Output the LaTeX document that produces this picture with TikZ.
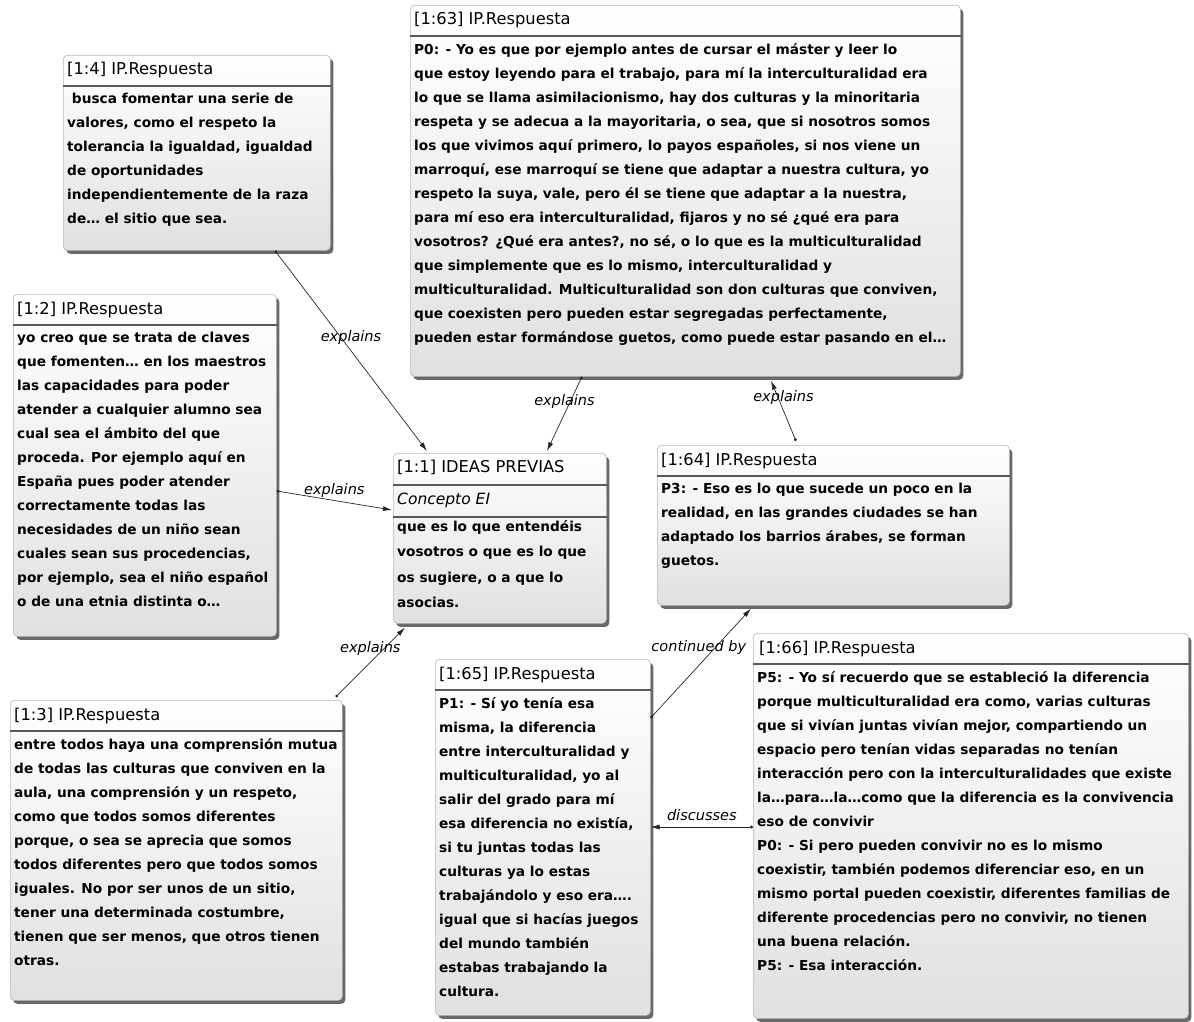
\documentclass[tikz,border=0pt]{standalone}
\usepackage{fontspec}
\setmainfont{DejaVu Sans}
\usetikzlibrary{arrows.meta, shadows}

\begin{document}
\begin{tikzpicture}[
    x=1pt, y=-1pt,
    card/.style={anchor=north west, inner sep=0pt, draw=black!28, line width=0.6pt,
        rounded corners=4pt, top color=white, bottom color=black!12,
        drop shadow={shadow xshift=3pt, shadow yshift=-3.5pt, fill=black!65, opacity=0.9}},
    title/.style={anchor=base west, inner sep=0pt, font=\fontsize{16.3pt}{19pt}\selectfont},
    body/.style={anchor=north west, inner sep=0pt, align=left,
        font=\bfseries\fontsize{13.7pt}{24pt}\selectfont, execute at begin node=\strut},
    rule/.style={draw=black!65, line width=1.2pt},
    link/.style={{Circle[length=3pt]}-{Latex[length=9pt, width=5pt]}, line width=0.7pt, draw=black!85},
    tag/.style={midway, inner sep=0pt, font=\itshape\fontsize{14.5pt}{16pt}\selectfont}
]

\useasboundingbox (0,0) rectangle (1194,1022);

% [1:4]
\node[card, minimum width=267pt, minimum height=195pt] (Q-4) at (63,55) {};
\node[title] (Q-4-title) at (67,75) {[1:4] IP.Respuesta};
\draw[rule] ([yshift=-31pt]Q-4.north west) -- ([yshift=-31pt]Q-4.north east);
\node[body] (Q-4-text) at (67,93) {\ busca fomentar una serie de\\
valores, como el respeto la\\
tolerancia la igualdad, igualdad\\
de oportunidades\\
independientemente de la raza\\
de… el sitio que sea.};

% [1:63]
\node[card, minimum width=550pt, minimum height=371pt] (Q-63) at (410,5) {};
\node[title] (Q-63-title) at (414,25) {[1:63] IP.Respuesta};
\draw[rule] ([yshift=-31pt]Q-63.north west) -- ([yshift=-31pt]Q-63.north east);
\node[body] (Q-63-text) at (414,43) {P0: - Yo es que por ejemplo antes de cursar el máster y leer lo\\
que estoy leyendo para el trabajo, para mí la interculturalidad era\\
lo que se llama asimilacionismo, hay dos culturas y la minoritaria\\
respeta y se adecua a la mayoritaria, o sea, que si nosotros somos\\
los que vivimos aquí primero, lo payos españoles, si nos viene un\\
marroquí, ese marroquí se tiene que adaptar a nuestra cultura, yo\\
respeto la suya, vale, pero él se tiene que adaptar a la nuestra,\\
para mí eso era interculturalidad, fijaros y no sé ¿qué era para\\
vosotros? ¿Qué era antes?, no sé, o lo que es la multiculturalidad\\
que simplemente que es lo mismo, interculturalidad y\\
multiculturalidad. Multiculturalidad son don culturas que conviven,\\
que coexisten pero pueden estar segregadas perfectamente,\\
pueden estar formándose guetos, como puede estar pasando en el…};

% [1:2]
\node[card, minimum width=263pt, minimum height=342pt] (Q-2) at (13,294) {};
\node[title] (Q-2-title) at (17,314) {[1:2] IP.Respuesta};
\draw[rule] ([yshift=-31pt]Q-2.north west) -- ([yshift=-31pt]Q-2.north east);
\node[body] (Q-2-text) at (17,332) {yo creo que se trata de claves\\
que fomenten… en los maestros\\
las capacidades para poder\\
atender a cualquier alumno sea\\
cual sea el ámbito del que\\
proceda. Por ejemplo aquí en\\
España pues poder atender\\
correctamente todas las\\
necesidades de un niño sean\\
cuales sean sus procedencias,\\
por ejemplo, sea el niño español\\
o de una etnia distinta o…};

% [1:1]
\node[card, minimum width=213pt, minimum height=170pt] (Q-1) at (393,453) {};
\node[title] (Q-1-title) at (397,472) {[1:1] IDEAS PREVIAS};
\draw[rule] ([yshift=-32pt]Q-1.north west) -- ([yshift=-32pt]Q-1.north east);
\node[title, font=\itshape\fontsize{15.5pt}{18pt}\selectfont] (Q-1-code) at (397,504) {Concepto EI};
\draw[rule] ([yshift=-64pt]Q-1.north west) -- ([yshift=-64pt]Q-1.north east);
\node[body, font=\bfseries\fontsize{13.7pt}{25.5pt}\selectfont] (Q-1-text) at (397,520) {que es lo que entendéis\\
vosotros o que es lo que\\
os sugiere, o a que lo\\
asocias.};

% [1:64]
\node[card, minimum width=352pt, minimum height=160pt] (Q-64) at (657,445) {};
\node[title] (Q-64-title) at (661,465) {[1:64] IP.Respuesta};
\draw[rule] ([yshift=-31pt]Q-64.north west) -- ([yshift=-31pt]Q-64.north east);
\node[body] (Q-64-text) at (661,483) {P3: - Eso es lo que sucede un poco en la\\
realidad, en las grandes ciudades se han\\
adaptado los barrios árabes, se forman\\
guetos.};

% [1:3]
\node[card, minimum width=332pt, minimum height=300pt] (Q-3) at (10,700) {};
\node[title] (Q-3-title) at (14,720) {[1:3] IP.Respuesta};
\draw[rule] ([yshift=-31pt]Q-3.north west) -- ([yshift=-31pt]Q-3.north east);
\node[body] (Q-3-text) at (14,738) {entre todos haya una comprensión mutua\\
de todas las culturas que conviven en la\\
aula, una comprensión y un respeto,\\
como que todos somos diferentes\\
porque, o sea se aprecia que somos\\
todos diferentes pero que todos somos\\
iguales. No por ser unos de un sitio,\\
tener una determinada costumbre,\\
tienen que ser menos, que otros tienen\\
otras.};

% [1:65]
\node[card, minimum width=215pt, minimum height=356pt] (Q-65) at (435,659) {};
\node[title] (Q-65-title) at (439,679) {[1:65] IP.Respuesta};
\draw[rule] ([yshift=-31pt]Q-65.north west) -- ([yshift=-31pt]Q-65.north east);
\node[body] (Q-65-text) at (439,697) {P1: - Sí yo tenía esa\\
misma, la diferencia\\
entre interculturalidad y\\
multiculturalidad, yo al\\
salir del grado para mí\\
esa diferencia no existía,\\
si tu juntas todas las\\
culturas ya lo estas\\
trabajándolo y eso era….\\
igual que si hacías juegos\\
del mundo también\\
estabas trabajando la\\
cultura.};

% [1:66]
\node[card, minimum width=435pt, minimum height=385pt] (Q-66) at (753,633) {};
\node[title] (Q-66-title) at (759,653) {[1:66] IP.Respuesta};
\draw[rule] ([yshift=-31pt]Q-66.north west) -- ([yshift=-31pt]Q-66.north east);
\node[body] (Q-66-text) at (757,671) {P5: - Yo sí recuerdo que se estableció la diferencia\\
porque multiculturalidad era como, varias culturas\\
que si vivían juntas vivían mejor, compartiendo un\\
espacio pero tenían vidas separadas no tenían\\
interacción pero con la interculturalidades que existe\\
la…para…la…como que la diferencia es la convivencia\\
eso de convivir\\
P0: - Si pero pueden convivir no es lo mismo\\
coexistir, también podemos diferenciar eso, en un\\
mismo portal pueden coexistir, diferentes familias de\\
diferente procedencias pero no convivir, no tienen\\
una buena relación.\\
P5: - Esa interacción.};

% Links
\draw[link] ([xshift=212pt]Q-4.south west) -- ([xshift=34pt,yshift=2pt]Q-1.north west)
    node[tag, yshift=13pt] (L-4) {explains};
\draw[link] ([yshift=-197pt]Q-2.north east) -- ([xshift=-1pt,yshift=-57pt]Q-1.north west)
    node[tag, yshift=10pt] (L-2) {explains};
\draw[link] ([xshift=-7pt,yshift=3pt]Q-3.north east) -- ([xshift=12pt,yshift=-4pt]Q-1.south west)
    node[tag, yshift=14pt] (L-3) {explains};
\draw[link] ([xshift=172pt]Q-63.south west) -- ([xshift=154pt,yshift=2pt]Q-1.north west)
    node[tag, yshift=12pt] (L-63) {explains};
\draw[link] ([xshift=139pt,yshift=4pt]Q-64.north west) -- ([xshift=361pt,yshift=-4pt]Q-63.south west)
    node[tag, yshift=13pt] (L-64) {explains};
\draw[link] ([yshift=-59pt]Q-65.north east) -- ([xshift=94pt,yshift=-3pt]Q-64.south west)
    node[tag, yshift=16pt, xshift=-2pt] (L-65) {continued by};
\draw[link] ([yshift=-194pt]Q-66.north west) -- ([yshift=-168pt]Q-65.north east)
    node[tag, yshift=12pt] (L-66) {discusses};

\end{tikzpicture}
\end{document}
